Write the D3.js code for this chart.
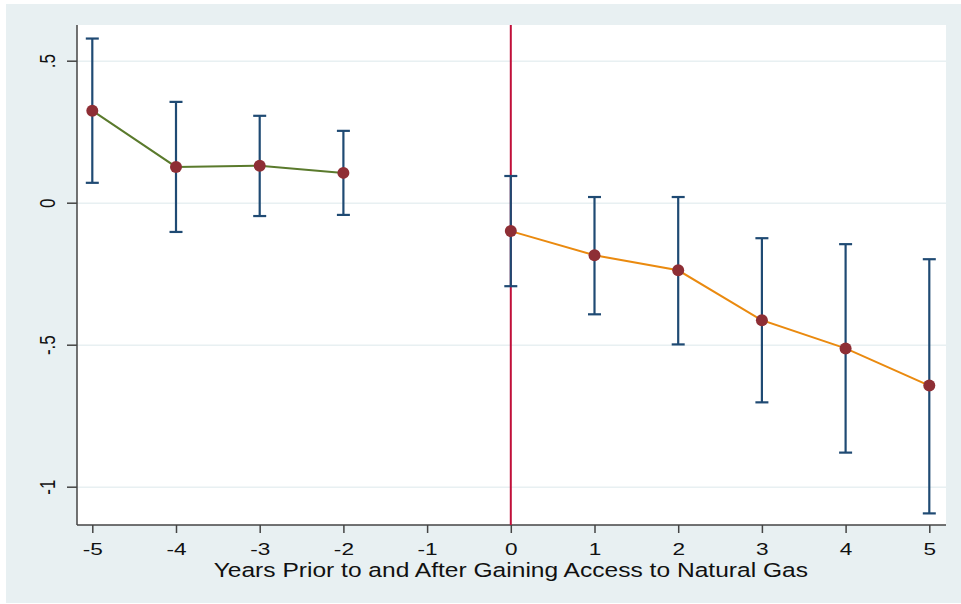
<!DOCTYPE html>
<html>
<head>
<meta charset="utf-8">
<script src="https://cdn.jsdelivr.net/npm/d3@7"></script>
<style>
  body { margin: 0; background: #fff; }
  svg { display: block; font-family: "Liberation Sans", Arial, sans-serif; }
</style>
</head>
<body>
<div id="chart"></div>
<script>
// event-study estimates
const years = [-5, -4, -3, -2, 0, 1, 2, 3, 4, 5];
const estimate = [0.324, 0.126, 0.130, 0.105, -0.100, -0.185, -0.238, -0.414, -0.513, -0.644];
const ciHigh = [0.578, 0.355, 0.306, 0.253, 0.094, 0.020, 0.020, -0.125, -0.146, -0.199];
const ciLow = [0.070, -0.103, -0.047, -0.043, -0.294, -0.393, -0.499, -0.703, -0.880, -1.094];
const xTicks = [-5, -4, -3, -2, -1, 0, 1, 2, 3, 4, 5];
const yTicks = [0.5, 0, -0.5, -1];
const yTickLabels = ['.5', '0', '-.5', '-1'];
const xTitle = 'Years Prior to and After Gaining Access to Natural Gas';

const W = 961, H = 604;
const plot = { left: 77, top: 25, right: 946, bottom: 525 };
const stretch = 1.33; // the original picture is widened, text included

const svg = d3.select('#chart').append('svg')
  .attr('width', W)
  .attr('height', H);

// outer graph region
svg.append('rect')
  .attr('x', 6).attr('y', 4)
  .attr('width', W - 6).attr('height', 599)
  .attr('fill', '#e8f0f2');

svg.append('rect')
  .attr('x', plot.left).attr('y', plot.top)
  .attr('width', plot.right - plot.left).attr('height', plot.bottom - plot.top)
  .attr('fill', '#fff');

const x = d3.scaleLinear()
  .domain([-5, 5])
  .range([92.3, 929.3]);

const y = d3.scaleLinear()
  .domain([0, -1])
  .range([202.7, 486.7]);

// grid
svg.append('g')
  .attr('transform', `translate(${plot.left},0)`)
  .call(d3.axisLeft(y).tickValues(yTicks).tickFormat('').tickSize(-(plot.right - plot.left)))
  .call(g => g.select('.domain').remove())
  .call(g => g.selectAll('line').attr('stroke', '#e8f0f2').attr('stroke-width', 1.5));

// y axis
const yAxis = svg.append('g')
  .attr('transform', `translate(${plot.left},0)`)
  .call(d3.axisLeft(y).tickValues(yTicks).tickSize(10)
    .tickFormat((d, i) => yTickLabels[i]));
yAxis.select('.domain')
  .attr('d', `M0,${plot.top}V${plot.bottom}`)
  .attr('stroke', '#444').attr('stroke-width', 1.5);
yAxis.selectAll('.tick line').attr('stroke', '#444').attr('stroke-width', 1.5);
yAxis.selectAll('.tick text')
  .attr('font-size', 17)
  .attr('fill', '#111')
  .attr('text-anchor', 'middle')
  .attr('x', 0).attr('y', 0).attr('dy', '0.36em')
  .attr('transform', `translate(-30,0) scale(${stretch},1) rotate(-90)`);

// x axis
const xAxis = svg.append('g')
  .attr('transform', `translate(0,${plot.bottom})`)
  .call(d3.axisBottom(x).tickValues(xTicks).tickSize(8).tickFormat(d3.format('d')));
xAxis.select('.domain')
  .attr('d', `M${plot.left},0H${plot.right}`)
  .attr('stroke', '#444').attr('stroke-width', 1.5);
xAxis.selectAll('.tick line').attr('stroke', '#444').attr('stroke-width', 1.5);
xAxis.selectAll('.tick text')
  .attr('font-size', 17)
  .attr('fill', '#111')
  .attr('y', 0).attr('dy', 0)
  .attr('transform', `translate(0,30) scale(${stretch},1)`)
  .text(d => d < 0 ? '-' + Math.abs(d) : d);

svg.append('text')
  .attr('transform', `translate(${(x(-5) + x(5)) / 2},577) scale(1.26,1)`)
  .attr('text-anchor', 'middle')
  .attr('font-size', 19.5)
  .attr('fill', '#111')
  .text(xTitle);

// treatment line at year 0
svg.append('line')
  .attr('x1', x(0)).attr('x2', x(0))
  .attr('y1', plot.top).attr('y2', plot.bottom)
  .attr('stroke', '#c0103a')
  .attr('stroke-width', 2);

const rows = years.map((yr, i) => ({ yr, est: estimate[i], hi: ciHigh[i], lo: ciLow[i] }));

// confidence intervals
const bars = svg.append('g')
  .attr('stroke', '#1f4a73')
  .attr('stroke-width', 2.2)
  .selectAll('g')
  .data(rows)
  .join('g');
bars.append('line')
  .attr('x1', d => x(d.yr)).attr('x2', d => x(d.yr))
  .attr('y1', d => y(d.hi)).attr('y2', d => y(d.lo));
bars.append('line')
  .attr('x1', d => x(d.yr) - 6.5).attr('x2', d => x(d.yr) + 6.5)
  .attr('y1', d => y(d.hi)).attr('y2', d => y(d.hi));
bars.append('line')
  .attr('x1', d => x(d.yr) - 6.5).attr('x2', d => x(d.yr) + 6.5)
  .attr('y1', d => y(d.lo)).attr('y2', d => y(d.lo));

// connecting lines, before and after
const line = d3.line().x(d => x(d.yr)).y(d => y(d.est));
svg.append('path')
  .datum(rows.filter(d => d.yr < 0))
  .attr('d', line)
  .attr('fill', 'none')
  .attr('stroke', '#5a7a2c')
  .attr('stroke-width', 2);
svg.append('path')
  .datum(rows.filter(d => d.yr >= 0))
  .attr('d', line)
  .attr('fill', 'none')
  .attr('stroke', '#ea8a0f')
  .attr('stroke-width', 2);

svg.append('g')
  .selectAll('circle')
  .data(rows)
  .join('circle')
  .attr('cx', d => x(d.yr))
  .attr('cy', d => y(d.est))
  .attr('r', 6)
  .attr('fill', '#8e2e35');
</script>
</body>
</html>
